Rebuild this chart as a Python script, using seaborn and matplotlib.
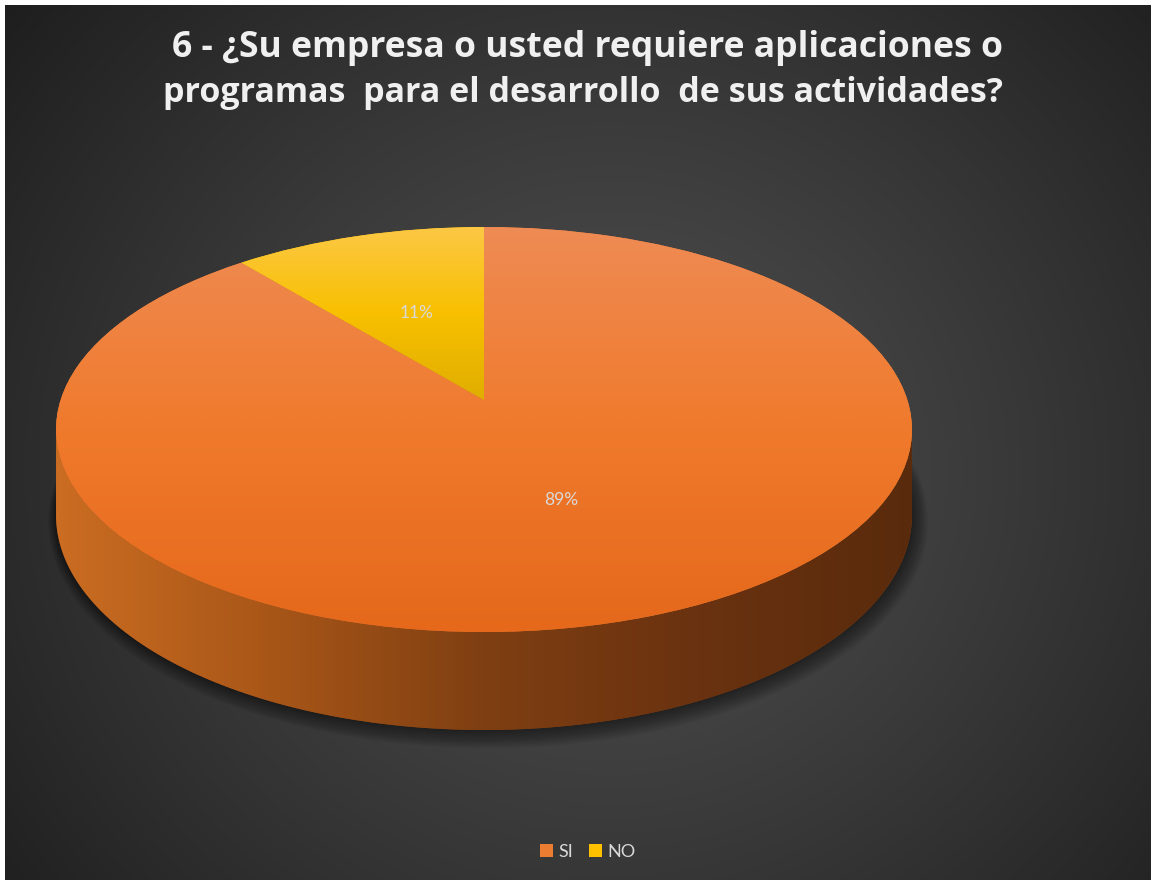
import numpy as np
import matplotlib
matplotlib.use("Agg")
import matplotlib.pyplot as plt
import matplotlib.transforms as mtransforms
from matplotlib.patches import Polygon
import seaborn as sns

# ---------------- data ----------------
categories = ["SI", "NO"]
values = [89, 11]
title_lines = ["6 - ¿Su empresa o usted requiere aplicaciones o",
               "programas  para el desarrollo  de sus actividades?"]

# ---------------- style ----------------
sns.set_theme(style="dark")
plt.rcParams['font.family'] = ['Lato', 'DejaVu Sans']

W, H = 1154, 880
base_colors = ["#ed7d31", "#ffc000"]
top_grad = {"SI": ["#ee8b54", "#f07a2c", "#e5681b"],
            "NO": ["#fcc845", "#f8c000", "#e0ae00"]}
side_grad = ["#cb6d22", "#a85618", "#7f3f12", "#6a3210", "#592b0c"]

# perspective geometry (pixel space)
CX, CY, A, B, K, D = 484.0, 400.0, 423.4, 198.2, 0.1457, 83.7


class Persp(mtransforms.Transform):
    input_dims = 2
    output_dims = 2
    is_separable = False

    def transform_non_affine(self, pts):
        pts = np.asarray(pts, float).reshape(-1, 2)
        u, v = pts[:, 0], pts[:, 1]
        w = 1.0 + K * v
        return np.column_stack([CX + A * u / w, CY - B * v / w])


persp = Persp()

fig = plt.figure(figsize=(W / 100, H / 100), dpi=100)
fig.patch.set_facecolor("white")
ax = fig.add_axes([0, 0, 1, 1])
ax.set_xlim(0, W)
ax.set_ylim(H, 0)
ax.axis("off")

# ---------- background radial gradient ----------
x0b, x1b, y0b, y1b = 5, 1151, 5, 880
yy, xx = np.mgrid[y0b:y1b, x0b:x1b]
r = np.sqrt(((xx - 610) / 1.0) ** 2 + ((yy - 470) / 0.95) ** 2)
t = np.clip(r / 820.0, 0, 1) ** 1.15
c0, c1 = 0x50 / 255, 0x1b / 255
val = c0 - (c0 - c1) * t
bg = np.dstack([val, val, val])
ax.imshow(bg, extent=[x0b, x1b, y1b, y0b], origin="upper", aspect="auto", zorder=0)

# ---------- pie (top face) ----------
wedges, _, autotexts = ax.pie(
    values, colors=base_colors, startangle=90 - 360 * values[0] / 100,
    counterclock=True, autopct="%1.0f%%", pctdistance=0.5, radius=1, center=(0, 0),
    wedgeprops=dict(linewidth=0), textprops=dict(color="#d9d9d9", fontsize=12.5))
ax.set_xlim(0, W)
ax.set_ylim(H, 0)
ax.set_aspect("auto")

for wdg in wedges:
    wdg.set_transform(persp + ax.transData)
    wdg.set_zorder(4)
for txt in autotexts:
    txt.set_transform(persp + ax.transData)
    txt.set_zorder(8)

# ---------- side of the cylinder ----------
tL = np.pi + np.arcsin(K)
tR = 2 * np.pi - np.arcsin(K)
ts = np.linspace(tL, tR, 300)
top_rim = persp.transform(np.column_stack([np.cos(ts), np.sin(ts)]))
wv = 1 + K * np.sin(ts)
bot_rim = top_rim + np.column_stack([np.zeros_like(ts), D / wv])
side_poly = np.vstack([top_rim, bot_rim[::-1]])

# shadow
ta = np.linspace(0, 2 * np.pi, 400)
full_top = persp.transform(np.column_stack([np.cos(ta), np.sin(ta)]))
full_bot = full_top + np.column_stack([np.zeros_like(ta), D / (1 + K * np.sin(ta))])
ccx, ccy = CX, CY + D
for e in np.linspace(1, 12, 12):
    pts = np.column_stack([ccx + (full_bot[:, 0] - ccx) * (1 + e / 430) + e * 0.35,
                           ccy + (full_bot[:, 1] - ccy) * (1 + e / 230) + e * 0.45])
    ax.add_patch(Polygon(pts, closed=True, facecolor="black", edgecolor="none",
                         alpha=0.045, zorder=1))

side_patch = Polygon(side_poly, closed=True, facecolor=side_grad[2], edgecolor="none", zorder=2)
ax.add_patch(side_patch)
side_cmap = sns.blend_palette(side_grad, as_cmap=True)
sx0, sx1 = side_poly[:, 0].min(), side_poly[:, 0].max()
sy0, sy1 = side_poly[:, 1].min(), side_poly[:, 1].max()
grad_h = np.linspace(0, 1, 512)[None, :].repeat(4, axis=0)
im = ax.imshow(grad_h, cmap=side_cmap, extent=[sx0, sx1, sy1, sy0], origin="upper",
               aspect="auto", zorder=3)
im.set_clip_path(side_patch)

# ---------- gradients on top face ----------
for wdg, cat in zip(wedges, categories):
    bb = wdg.get_transform().transform_path(wdg.get_path()).get_extents()
    bbd = bb.transformed(ax.transData.inverted())
    gx0, gx1 = min(bbd.x0, bbd.x1), max(bbd.x0, bbd.x1)
    gy0, gy1 = min(bbd.y0, bbd.y1), max(bbd.y0, bbd.y1)
    cmap = sns.blend_palette(top_grad[cat], as_cmap=True)
    gv = np.linspace(0, 1, 512)[:, None].repeat(4, axis=1)
    gim = ax.imshow(gv, cmap=cmap, extent=[gx0, gx1, gy1, gy0], origin="upper",
                    aspect="auto", zorder=5)
    gim.set_clip_path(wdg)

# ---------- title ----------
fig.canvas.draw()
renderer = fig.canvas.get_renderer()
targets = [(588, 48, 833), (583, 93, 840)]
for line, (tx, ty, tw) in zip(title_lines, targets):
    tt = ax.text(tx, ty, line, ha="center", va="center", color="#f0f0f0",
                 fontsize=24, fontweight="bold", family=["Open Sans", "DejaVu Sans"],
                 zorder=9)
    w_now = tt.get_window_extent(renderer).width
    tt.set_fontsize(24 * tw / w_now)

# ---------- legend ----------
leg = ax.legend(wedges, categories, loc="center", bbox_to_anchor=(588 / W, 1 - 852 / H),
                ncol=2, frameon=False, fontsize=13, labelcolor="#d9d9d9",
                handlelength=0.7, handleheight=0.7, handletextpad=0.3,
                columnspacing=0.9)
leg.set_zorder(9)

ax.set_xlim(0, W)
ax.set_ylim(H, 0)
fig.savefig("out.png", dpi=100, facecolor="white")
